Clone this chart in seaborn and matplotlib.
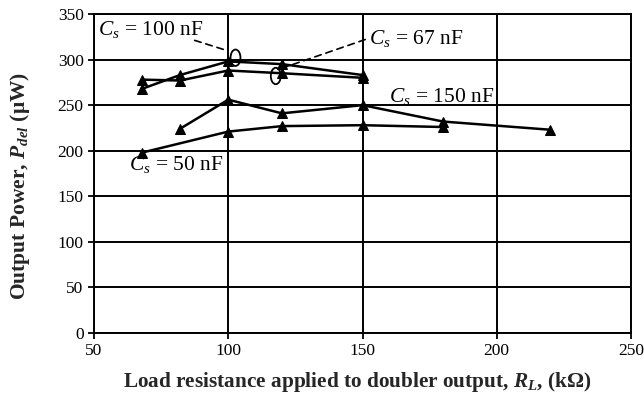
import matplotlib
matplotlib.use("Agg")
import matplotlib.pyplot as plt
from matplotlib.patches import Ellipse
import numpy as np
import pandas as pd
import seaborn as sns

# Data
rl_100 = [68, 82, 100, 120, 150]
p_100 = [268, 283, 298, 295, 283]

rl_67 = [68, 82, 100, 120, 150]
p_67 = [278, 277, 288, 285, 280]

rl_150 = [82, 100, 120, 150, 180, 220]
p_150 = [224, 256, 241, 250, 232, 223]

rl_50 = [68, 100, 120, 150, 180]
p_50 = [198, 221, 227, 228, 226]

series_names = ["100 nF", "67 nF", "150 nF", "50 nF"]
x_ticks = [50, 100, 150, 200, 250]
y_ticks = [0, 50, 100, 150, 200, 250, 300, 350]

sns.set_style("ticks")
plt.rcParams["font.family"] = ["Liberation Serif", "DejaVu Serif"]
plt.rcParams["mathtext.fontset"] = "custom"
plt.rcParams["mathtext.rm"] = "Liberation Serif"
plt.rcParams["mathtext.it"] = "Liberation Serif:italic:bold"
plt.rcParams["mathtext.bf"] = "Liberation Serif:bold"
plt.rcParams["mathtext.sf"] = "Liberation Serif:italic"

frames = []
for name, xs, ys in zip(series_names, [rl_100, rl_67, rl_150, rl_50],
                        [p_100, p_67, p_150, p_50]):
    frames.append(pd.DataFrame({"RL": xs, "P": ys, "Cs": name}))
df = pd.concat(frames, ignore_index=True)

fig = plt.figure(figsize=(6.44, 3.97), dpi=100)
ax = fig.add_axes([94 / 644, 1 - 333 / 397, (631 - 94) / 644, (333 - 14) / 397])

for name in series_names:
    sns.lineplot(data=df[df["Cs"] == name], x="RL", y="P", ax=ax,
                 color="black", linewidth=1.8, marker="^", markersize=6.5,
                 markeredgecolor="black", sort=False, legend=False)

ax.set_xlim(50, 250)
ax.set_ylim(0, 350)
ax.set_xticks(x_ticks)
ax.set_yticks(y_ticks)
ax.grid(True, color="black", linewidth=1.4)
for s in ax.spines.values():
    s.set_color("black")
    s.set_linewidth(1.4)
ax.tick_params(axis="both", direction="out", length=4.5, width=1.3,
               labelsize=12.5, colors="black", pad=3)

ax.set_xlabel(r"Load resistance applied to doubler output, $R_L$, (k$\mathbf{\Omega}$)",
              fontsize=15.3, fontweight="bold")
ax.set_ylabel(r"Output Power, $P_{del}$ ($\mathbf{\mu}$W)",
              fontsize=15.5, fontweight="bold")
ax.xaxis.set_label_coords(0.49, -0.117)
ax.yaxis.set_label_coords(-0.115, 0.462)

# annotations
txt = dict(fontsize=15.5, color="black", va="center")
ax.text(51.5, 333, r"$\mathsf{C}_\mathsf{s}$ = 100 nF", **txt)
ax.text(152.5, 323, r"$\mathsf{C}_\mathsf{s}$ = 67 nF", **txt)
ax.text(160, 259, r"$\mathsf{C}_\mathsf{s}$ = 150 nF", **txt)
ax.text(63, 185, r"$\mathsf{C}_\mathsf{s}$ = 50 nF", **txt)

ax.add_patch(Ellipse((102.7, 302), 3.7, 18, fill=False, edgecolor="black", linewidth=1.3))
ax.add_patch(Ellipse((117.7, 282), 3.7, 18, fill=False, edgecolor="black", linewidth=1.3))
ax.annotate("", xy=(100.5, 309), xytext=(86.5, 322),
            arrowprops=dict(arrowstyle="-", linestyle=(0, (4, 3)), color="black", lw=1.2))
ax.annotate("", xy=(119.5, 290), xytext=(152, 323),
            arrowprops=dict(arrowstyle="-", linestyle=(0, (4, 3)), color="black", lw=1.2))

fig.savefig("out.png", dpi=100)
